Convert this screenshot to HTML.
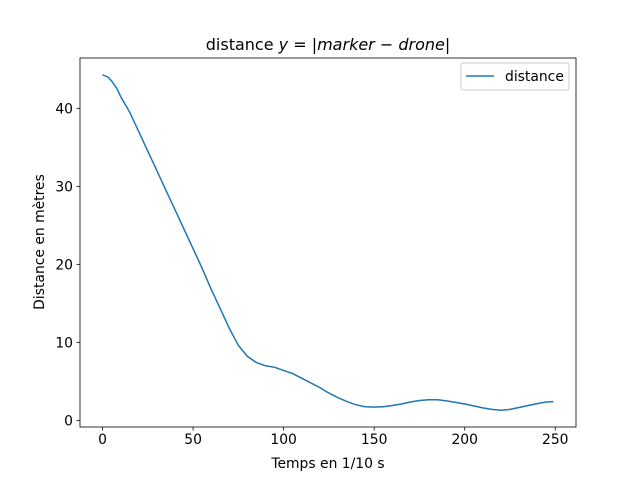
<!DOCTYPE html>
<html><head><meta charset="utf-8"><style>
body{margin:0;background:#fff}
svg text{font-family:"DejaVu Sans","Liberation Sans",sans-serif;fill:#000}
</style></head><body>
<svg id="c" width="640" height="480">
<rect x="0" y="0" width="640" height="480" fill="#fff"/>
<g id="g"></g>
</svg>
<script>
const xValues=[0,3,5,8,10,15,20,25,30,35,40,45,50,55,60,65,70,75,80,85,90,95,100,105,110,115,120,125,130,135,140,145,150,155,160,165,170,175,180,185,190,195,200,205,210,215,220,225,230,235,240,245,249];
const distance=[44.3,44.0,43.5,42.5,41.5,39.5,37,34.5,32,29.5,27,24.5,22,19.5,16.8,14.3,11.8,9.6,8.2,7.4,7.0,6.8,6.4,6.0,5.4,4.8,4.2,3.5,2.9,2.4,2.0,1.75,1.7,1.75,1.9,2.1,2.35,2.55,2.65,2.65,2.5,2.3,2.1,1.85,1.6,1.4,1.3,1.4,1.65,1.9,2.15,2.35,2.4];
const xTicks=[0,50,100,150,200,250];
const yTicks=[0,10,20,30,40];
const L=80,R=576,T=58,B=427;
const xmin=-12.45,xmax=261.45,ymin=-0.85,ymax=46.45;
const X=v=>L+(v-xmin)/(xmax-xmin)*(R-L);
const Y=v=>B-(v-ymin)/(ymax-ymin)*(B-T);
const NS="http://www.w3.org/2000/svg";
const g=document.getElementById('g');
function mk(t,a,txt){const e=document.createElementNS(NS,t);for(const k in a)e.setAttribute(k,a[k]);if(txt!=null)e.textContent=txt;g.appendChild(e);return e;}
let d=xValues.map((x,i)=>(i?'L':'M')+X(x).toFixed(1)+','+Y(distance[i]).toFixed(1)).join('');
let line=mk('path',{d:d,fill:'none',stroke:'#1f77b4','stroke-width':1.5});


let fr=mk('rect',{x:L,y:T,width:R-L,height:B-T,fill:'none',stroke:'#000','stroke-width':0.8});


xTicks.forEach(t=>{
 mk('line',{x1:X(t),x2:X(t),y1:B,y2:B+3.5,stroke:'#000','stroke-width':0.8});
 let tx=mk('text',{x:X(t),y:B+17,'text-anchor':'middle','font-size':'13.9px'},t);
 
 
});
yTicks.forEach(t=>{
 mk('line',{x1:L-3.5,x2:L,y1:Y(t),y2:Y(t),stroke:'#000','stroke-width':0.8});
 let tx=mk('text',{x:L-7,y:Y(t)+5,'text-anchor':'end','font-size':'13.9px'},t);
 
 
});
</script>
<svg width="640" height="480" style="position:absolute;left:0;top:0">
<text x="328" y="50" text-anchor="middle" font-size="16px">distance <tspan font-style="italic">y</tspan> = |<tspan font-style="italic">marker</tspan> − <tspan font-style="italic">drone</tspan>|</text>
<text x="328" y="468" text-anchor="middle" font-size="13.9px">Temps en 1/10 s</text>
<text transform="translate(44,242) rotate(-90)" text-anchor="middle" font-size="13.9px">Distance en mètres</text>
<g>
<rect x="461" y="63" width="108" height="27" rx="2" fill="#fff" stroke="#ccc" stroke-width="1"/>
<line x1="466" y1="76" x2="494" y2="76" stroke="#1f77b4" stroke-width="1.5"/>
<text x="505" y="81" font-size="13.9px">distance</text>
</g>
</svg>
</body></html>
